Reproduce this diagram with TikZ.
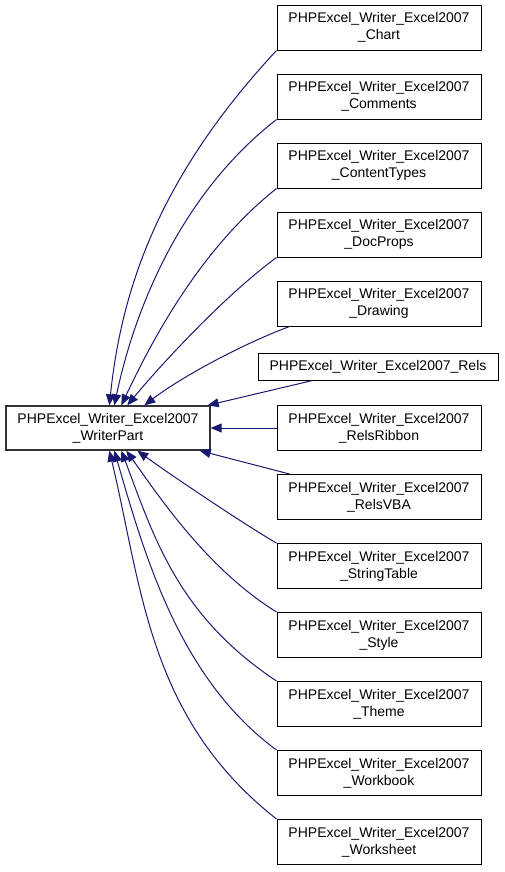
\documentclass[tikz,border=0pt]{standalone}
\usepackage{fontspec}
\setmainfont{Liberation Sans}
\usetikzlibrary{calc,arrows.meta}
\definecolor{edgeblue}{HTML}{191970}
\begin{document}
\begin{tikzpicture}[x=0.75pt,y=-0.75pt,
  cls/.style={draw=black,line width=0.75pt,fill=white,inner sep=0pt,
    minimum width=153pt,minimum height=33.75pt,align=center,
    font=\fontsize{10.5}{12.75}\selectfont},
  mainbox/.style={cls,draw=black!80,line width=1pt,minimum height=33pt},
  onebox/.style={cls,minimum width=180pt,minimum height=20.25pt},
  inh/.style={draw=edgeblue,line width=0.75pt,
    -{Triangle[length=8.25pt,width=6.75pt]}}]
\useasboundingbox (0,0) rectangle (504,872);
\node[mainbox] (main) at (108,428) {PHPExcel\_Writer\_Excel2007\\\_WriterPart};
\node[cls] (chart) at (379,27.5) {PHPExcel\_Writer\_Excel2007\\\_Chart};
\node[cls] (comments) at (379,96.5) {PHPExcel\_Writer\_Excel2007\\\_Comments};
\node[cls] (contenttypes) at (379,165.5) {PHPExcel\_Writer\_Excel2007\\\_ContentTypes};
\node[cls] (docprops) at (379,234.5) {PHPExcel\_Writer\_Excel2007\\\_DocProps};
\node[cls] (drawing) at (379,303.5) {PHPExcel\_Writer\_Excel2007\\\_Drawing};
\node[onebox] (rels) at (378,366.5) {PHPExcel\_Writer\_Excel2007\_Rels};
\node[cls] (relsribbon) at (379,428) {PHPExcel\_Writer\_Excel2007\\\_RelsRibbon};
\node[cls] (relsvba) at (379,497) {PHPExcel\_Writer\_Excel2007\\\_RelsVBA};
\node[cls] (stringtable) at (379,566) {PHPExcel\_Writer\_Excel2007\\\_StringTable};
\node[cls] (style) at (379,635) {PHPExcel\_Writer\_Excel2007\\\_Style};
\node[cls] (theme) at (379,704) {PHPExcel\_Writer\_Excel2007\\\_Theme};
\node[cls] (workbook) at (379,773) {PHPExcel\_Writer\_Excel2007\\\_Workbook};
\node[cls] (worksheet) at (379,842) {PHPExcel\_Writer\_Excel2007\\\_Worksheet};
% upper edges
\draw[inh] (chart.south west) .. controls (155,181) and (121,295) .. ($(main.north west)+(104,0)$);
\draw[inh] (comments.south west) .. controls (182,193) and (135,307) .. ($(main.north west)+(109,0)$);
\draw[inh] (contenttypes.south west) .. controls (203,247) and (156,332) .. ($(main.north west)+(116,0)$);
\draw[inh] (docprops.south west) .. controls (220,299) and (153,374) .. ($(main.north west)+(122,0)$);
\draw[inh] ($(drawing.south west)+(13,0)$) .. controls (240,345) and (180,378) .. ($(main.north west)+(139,0)$);
\draw[inh] ($(rels.south west)+(55,0)$) -- ($(main.north east)+(-3,0)$);
\draw[inh] (relsribbon.west) -- (main.east);
% lower edges
\draw[inh] ($(relsvba.north west)+(13,0)$) -- ($(main.south east)+(-11,0)$);
\draw[inh] (stringtable.north west) .. controls (245,525) and (168,473) .. ($(main.south west)+(132,0)$);
\draw[inh] (style.north west) .. controls (209,570) and (162,501) .. ($(main.south west)+(121,0)$);
\draw[inh] (theme.north west) .. controls (177,615) and (153.5,535.6) .. ($(main.south west)+(116,0)$);
\draw[inh] (workbook.north west) .. controls (180,679) and (145,557) .. ($(main.south west)+(109,0)$);
\draw[inh] (worksheet.north west) .. controls (148,718) and (142,587) .. ($(main.south west)+(104,0)$);
\end{tikzpicture}
\end{document}
